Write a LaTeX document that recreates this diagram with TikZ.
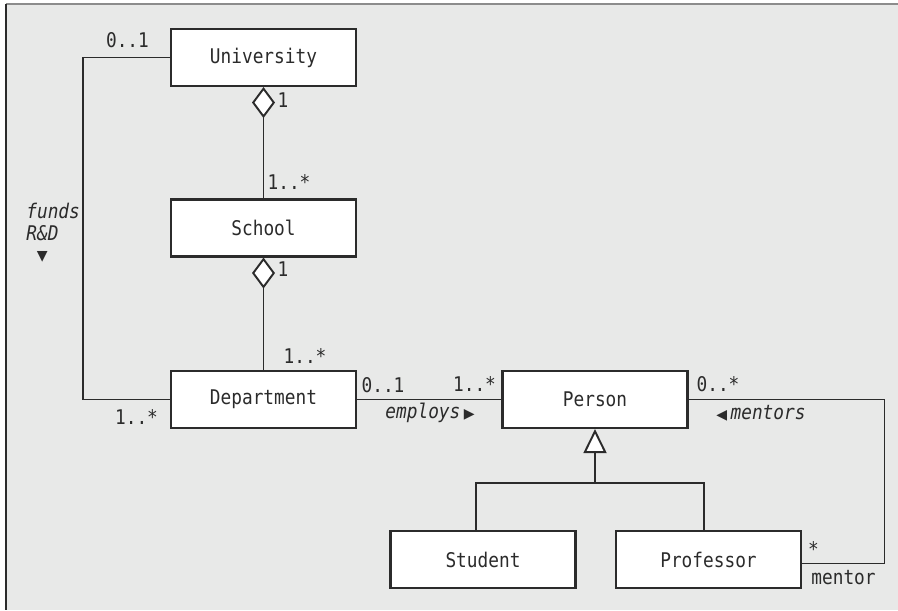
\documentclass[tikz,border=0pt]{standalone}
\usepackage{fontspec}
\setmonofont{DejaVu Sans Mono}[FakeStretch=0.88]
\newfontfamily\symfont{DejaVu Sans}
\usetikzlibrary{arrows.meta, positioning}
\definecolor{bggray}{HTML}{E8E9E8}
\definecolor{edgegray}{HTML}{8C8C8C}
\definecolor{ink}{HTML}{2B2B2B}
\newcommand{\rtri}{{\symfont\fontsize{8}{9}\selectfont ▶}}
\newcommand{\ltri}{{\symfont\fontsize{8}{9}\selectfont ◀}}
\newcommand{\dtri}{{\symfont\fontsize{8}{9}\selectfont ▼}}

\begin{document}
\begin{tikzpicture}[
    every node/.style={font=\ttfamily\fontsize{11.5}{12.5}\selectfont, text=ink},
    classbox/.style={
        rectangle,
        draw=ink,
        fill=white,
        line width=1.2pt,
        minimum width=3.7cm,
        minimum height=1.14cm,
        inner sep=0pt
    },
    mult/.style={inner sep=0pt},
    role/.style={inner sep=0pt, font=\ttfamily\itshape\fontsize{11.5}{12.5}\selectfont},
    assoc/.style={line width=1.1pt, draw=ink},
    aggr/.style={assoc, {Diamond[fill=white, length=0.62cm, width=0.46cm]}-},
    inherit/.style={assoc, -{Triangle[fill=white, length=0.48cm, width=0.46cm]}}
]

% Frame
\useasboundingbox (0,0) rectangle (17.96,-12.2);
\fill[bggray] (0.12,-0.08) rectangle (17.96,-12.2);
\draw[edgegray, line width=0.6pt] (0.12,-0.08) -- (17.96,-0.08);
\draw[ink, line width=1.2pt] (0.12,-0.08) -- (0.12,-12.2);

% Classes
\node[classbox] (univ) at (5.27,-1.15) {University};
\node[classbox] (school) at (5.27,-4.56) {School};
\node[classbox] (dept) at (5.27,-7.99) {Department};
\node[classbox] (person) at (11.9,-7.99) {Person};
\node[classbox] (student) at (9.66,-11.19) {Student};
\node[classbox] (prof) at (14.17,-11.19) {Professor};

% Bend points
\coordinate (fundsTop) at (1.66,-1.15);
\coordinate (mentorTop) at (17.69,-7.99);
\coordinate (gen) at (11.9,-9.66);

% Aggregations
\draw[aggr] (univ.south) -- (school.north);
\draw[aggr] (school.south) -- (dept.north);

% Associations
\draw[assoc] (univ.west) -- (fundsTop) |- (dept.west);
\draw[assoc] (dept.east) -- (person.west);
\draw[assoc] (person.east) -- (mentorTop) |- ([yshift=-0.08cm]prof.east);

% Generalization
\draw[inherit] (gen) -- (person.south);
\draw[assoc] ([xshift=-0.14cm]student.north) |- (gen);
\draw[assoc] ([xshift=-0.09cm]prof.north) |- (gen);

% Multiplicities
\node[mult] (m1) at (2.55,-0.8) {0..1};
\node[mult] (m2) at (5.66,-2.0) {1};
\node[mult] (m3) at (5.78,-3.64) {1..*};
\node[mult] (m4) at (5.66,-5.38) {1};
\node[mult] (m5) at (6.1,-7.12) {1..*};
\node[mult] (m6) at (2.73,-8.34) {1..*};
\node[mult] (m7) at (7.66,-7.7) {0..1};
\node[mult] (m8) at (9.49,-7.68) {1..*};
\node[mult] (m9) at (14.36,-7.68) {0..*};
\node[mult] (m10) at (16.27,-10.98) {*};
\node[mult] (m11) at (16.87,-11.56) {mentor};

% Association names
\node[role, anchor=north west, align=left] (funds) at (0.52,-4.05) {funds\\R\&D\\[-1pt]\hspace*{6pt}\dtri};
\node[role] (employs) at (8.6,-8.26) {employs\,\rtri};
\node[role] (mentors) at (15.22,-8.26) {\ltri\,mentors};

\end{tikzpicture}
\end{document}
